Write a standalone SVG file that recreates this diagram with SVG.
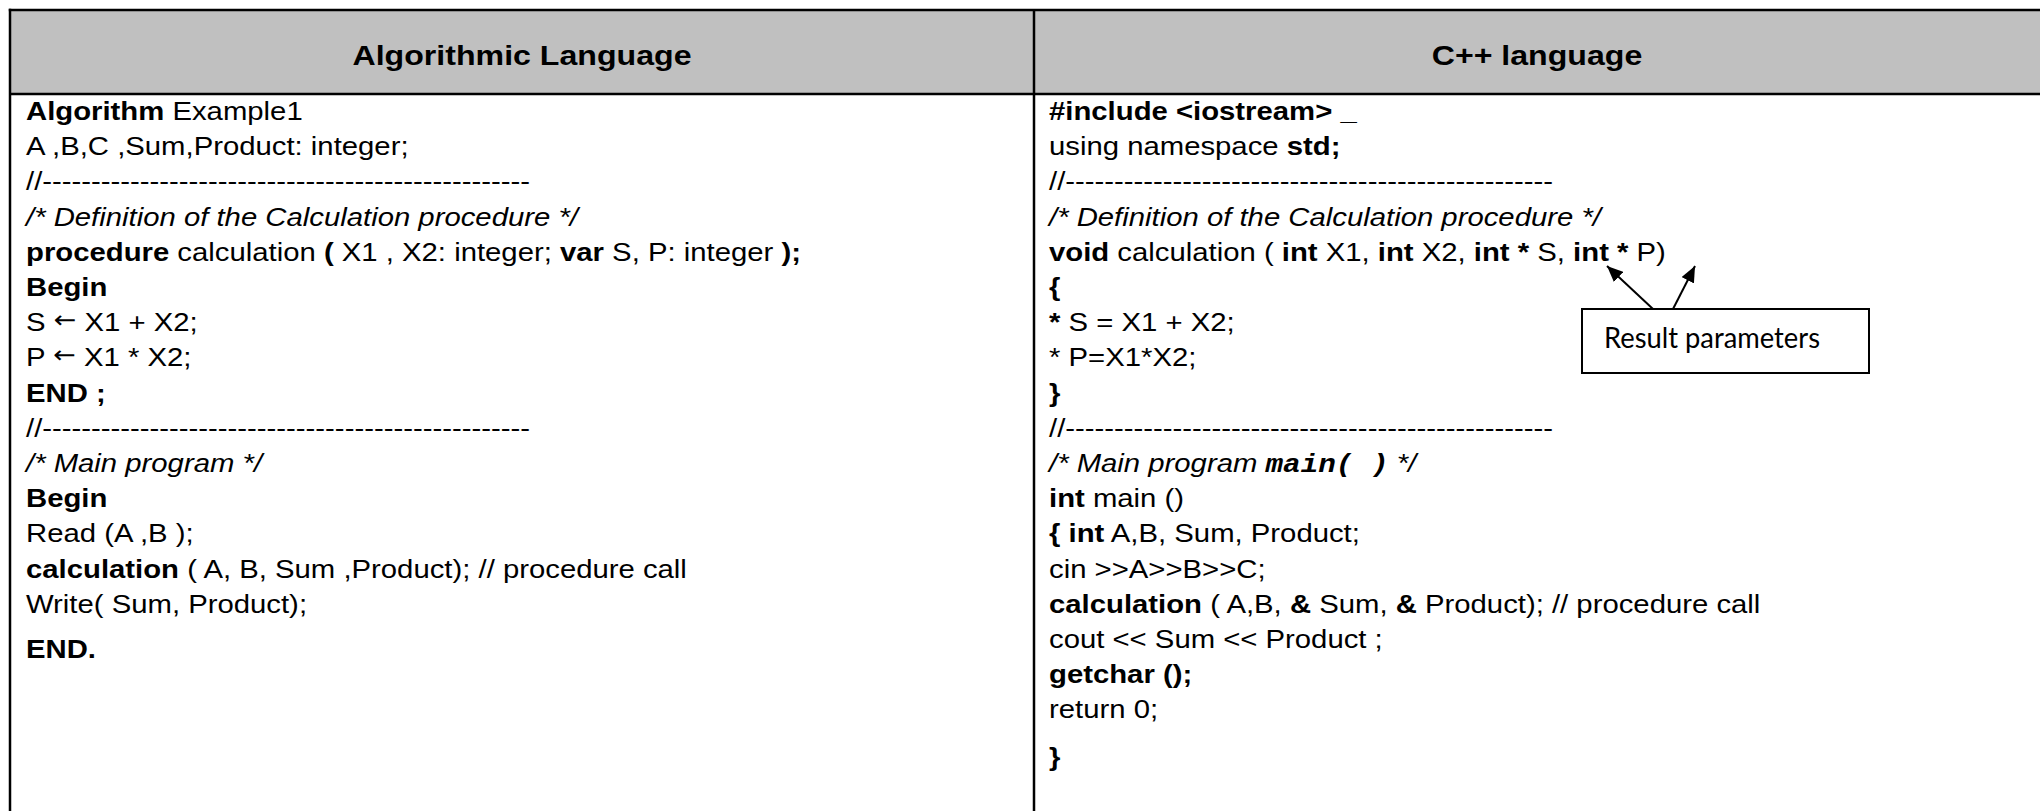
<svg xmlns="http://www.w3.org/2000/svg" width="2040" height="811" viewBox="0 0 2040 811">
  <style>
    .t { font-family: "Liberation Sans", Arial, sans-serif; font-size: 26px; fill: #000; white-space: pre; }
    .b { font-weight: bold; }
    .i { font-style: italic; }
    .m { font-family: "Liberation Mono", "Courier New", monospace; font-weight: bold; font-style: italic; }
    .ar { font-family: "DejaVu Sans", sans-serif; font-size: 24px; font-weight: normal; }
    .h { font-family: "Liberation Sans", Arial, sans-serif; font-size: 28.5px; font-weight: bold; text-anchor: middle; fill: #000; }
    .note { font-family: Lato, "Open Sans", sans-serif; font-size: 28px; fill: #000; white-space: pre; }
    .rule { stroke: #000; stroke-width: 2.5; fill: none; }
    .arrow { stroke: #000; stroke-width: 2; fill: none; marker-end: url(#head); }
  </style>
  <defs>
    <marker id="head" markerUnits="userSpaceOnUse" markerWidth="18" markerHeight="14" refX="16" refY="7" orient="auto">
      <path d="M0,0 L16,7 L0,14 Z" fill="#000"/>
    </marker>
  </defs>

  <rect width="2040" height="811" fill="#fff"/>

  <!-- table frame -->
  <g id="table">
    <rect x="10" y="10" width="2030" height="84" fill="#c0c0c0"/>
    <line class="rule" x1="8.8" y1="10" x2="2040" y2="10"/>
    <line class="rule" x1="10" y1="94" x2="2040" y2="94"/>
    <line class="rule" x1="10" y1="8.8" x2="10" y2="811"/>
    <line class="rule" x1="1034" y1="10" x2="1034" y2="811" stroke-width="2"/>
  </g>

  <!-- column headings -->
  <g id="headings" transform="scale(1.127,1)">
    <text class="h" x="463.2" y="65">Algorithmic Language</text>
    <text class="h" x="1363.8" y="65">C++ language</text>
  </g>

  <!-- algorithmic version -->
  <g id="algo" transform="scale(1.127,1)">
    <text class="t" x="23.07" y="120"><tspan class="b">Algorithm</tspan> Example1</text>
    <text class="t" x="23.07" y="155.2">A ,B,C ,Sum,Product: integer;</text>
    <text class="t" x="23.07" y="190.4">//--------------------------------------------------</text>
    <text class="t i" x="23.07" y="225.6">/* Definition of the Calculation procedure */</text>
    <text class="t" x="23.07" y="260.8"><tspan class="b">procedure</tspan> calculation <tspan class="b">(</tspan> X1 , X2: integer; <tspan class="b">var</tspan> S, P: integer <tspan class="b">);</tspan></text>
    <text class="t b" x="23.07" y="296">Begin</text>
    <text class="t" x="23.07" y="331.2">S <tspan class="ar" dy="-3">←</tspan><tspan dy="3"> X1 + X2;</tspan></text>
    <text class="t" x="23.07" y="366.4">P <tspan class="ar" dy="-3">←</tspan><tspan dy="3"> X1 * X2;</tspan></text>
    <text class="t b" x="23.07" y="401.6">END ;</text>
    <text class="t" x="23.07" y="436.8">//--------------------------------------------------</text>
    <text class="t i" x="23.07" y="472">/* Main program */</text>
    <text class="t b" x="23.07" y="507.2">Begin</text>
    <text class="t" x="23.07" y="542.4">Read (A ,B );</text>
    <text class="t" x="23.07" y="577.6"><tspan class="b">calculation</tspan> ( A, B, Sum ,Product); // procedure call</text>
    <text class="t" x="23.07" y="612.8">Write( Sum, Product);</text>
    <text class="t b" x="23.07" y="658">END.</text>
  </g>

  <!-- C++ version -->
  <g id="cpp" transform="scale(1.127,1)">
    <text class="t b" x="930.8" y="120">#include &lt;iostream&gt; _</text>
    <text class="t" x="930.8" y="155.2">using namespace <tspan class="b">std;</tspan></text>
    <text class="t" x="930.8" y="190.4">//--------------------------------------------------</text>
    <text class="t i" x="930.8" y="225.6">/* Definition of the Calculation procedure */</text>
    <text class="t" x="930.8" y="260.8"><tspan class="b">void</tspan> calculation ( <tspan class="b">int</tspan> X1, <tspan class="b">int</tspan> X2, <tspan class="b">int *</tspan> S, <tspan class="b">int *</tspan> P)</text>
    <text class="t b" x="930.8" y="296">{</text>
    <text class="t" x="930.8" y="331.2"><tspan class="b">*</tspan> S = X1 + X2;</text>
    <text class="t" x="930.8" y="366.4">* P=X1*X2;</text>
    <text class="t b" x="930.8" y="401.6">}</text>
    <text class="t" x="930.8" y="436.8">//--------------------------------------------------</text>
    <text class="t i" x="930.8" y="472">/* Main program <tspan class="m">main( )</tspan> */</text>
    <text class="t" x="930.8" y="507.2"><tspan class="b">int</tspan> main ()</text>
    <text class="t" x="930.8" y="542.4"><tspan class="b">{ int</tspan> A,B, Sum, Product;</text>
    <text class="t" x="930.8" y="577.6">cin &gt;&gt;A&gt;&gt;B&gt;&gt;C;</text>
    <text class="t" x="930.8" y="612.8"><tspan class="b">calculation</tspan> ( A,B, <tspan class="b">&amp;</tspan> Sum, <tspan class="b">&amp;</tspan> Product); // procedure call</text>
    <text class="t" x="930.8" y="648">cout &lt;&lt; Sum &lt;&lt; Product ;</text>
    <text class="t b" x="930.8" y="683.2">getchar ();</text>
    <text class="t" x="930.8" y="718.4">return 0;</text>
    <text class="t b" x="930.8" y="766">}</text>
  </g>

  <!-- callout box -->
  <g id="result-note">
    <rect x="1582" y="309" width="287" height="64" fill="#fff" stroke="#000" stroke-width="2"/>
    <text class="note" x="1604" y="348" textLength="216" lengthAdjust="spacingAndGlyphs">Result parameters</text>
  </g>

  <!-- connectors from the note to the pointer parameters -->
  <g id="connectors">
    <line class="arrow" x1="1653" y1="309" x2="1607" y2="266"/>
    <line class="arrow" x1="1673" y1="309" x2="1695" y2="266"/>
  </g>
</svg>
